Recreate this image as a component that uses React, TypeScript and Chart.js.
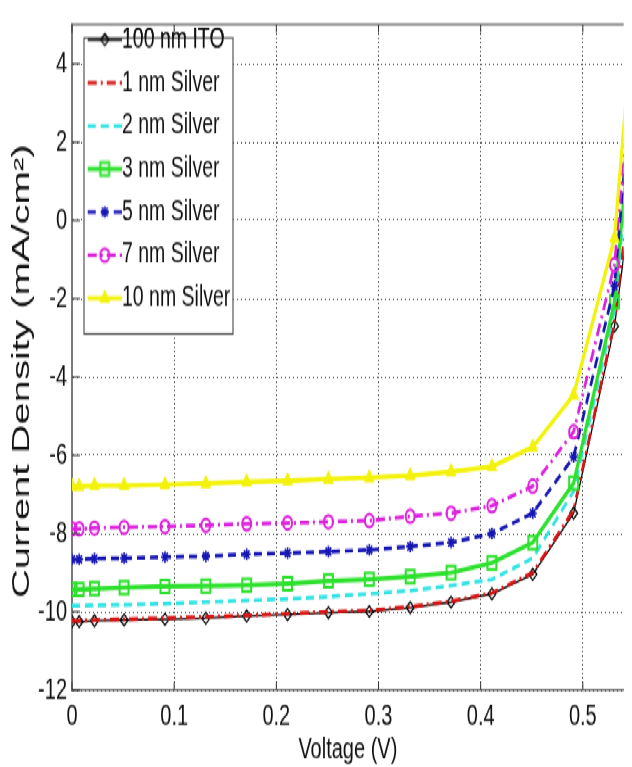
import React, { useEffect, useRef } from 'react';
import { Chart, registerables } from 'chart.js';

Chart.register(...registerables);

// ---- data ----
const VOLTAGE = [0, 0.007, 0.022, 0.051, 0.091, 0.131, 0.171, 0.211, 0.251, 0.291, 0.331, 0.371, 0.411, 0.451, 0.491, 0.531, 0.571];
const ITO_100NM = [-10.25, -10.25, -10.23, -10.21, -10.19, -10.16, -10.11, -10.07, -10.02, -9.99, -9.89, -9.75, -9.54, -9.04, -7.48, -2.7, 5.2];
const SILVER_1NM = [-10.23, -10.23, -10.21, -10.19, -10.16, -10.13, -10.09, -10.05, -10.0, -9.96, -9.87, -9.73, -9.52, -9.0, -7.4, -2.6, 6.4];
const SILVER_2NM = [-9.84, -9.84, -9.83, -9.82, -9.79, -9.75, -9.71, -9.67, -9.61, -9.54, -9.46, -9.33, -9.17, -8.63, -6.92, -2.3, 8.6];
const SILVER_3NM = [-9.43, -9.43, -9.41, -9.38, -9.35, -9.34, -9.32, -9.28, -9.21, -9.17, -9.1, -9.0, -8.75, -8.23, -6.71, -2.08, 9.5];
const SILVER_5NM = [-8.66, -8.66, -8.64, -8.63, -8.6, -8.58, -8.53, -8.5, -8.46, -8.42, -8.33, -8.23, -8.0, -7.48, -6.04, -1.67, 10.7];
const SILVER_7NM = [-7.88, -7.88, -7.86, -7.84, -7.82, -7.79, -7.75, -7.73, -7.7, -7.67, -7.56, -7.48, -7.29, -6.79, -5.4, -1.13, 10.7];
const SILVER_10NM = [-6.79, -6.79, -6.77, -6.77, -6.75, -6.72, -6.68, -6.65, -6.61, -6.57, -6.52, -6.42, -6.29, -5.79, -4.46, -0.45, 12];
const SERIES_LABELS = ['100 nm ITO', '1 nm Silver', '2 nm Silver', '3 nm Silver', '5 nm Silver', '7 nm Silver', '10 nm Silver'];
const X_TITLE = 'Voltage (V)';
const Y_TITLE = 'Current Density (mA/cm\u00B2)';
const X_RANGE = [0, 0.54];
const Y_RANGE = [-12, 5];
const X_STEP = 0.1;
const Y_STEP = 2;

// ---- layout (the original picture is vertically stretched) ----
const W = 632;
const H = 529;
const S = 767 / H;

type Marker = 'none' | 'diamond' | 'square' | 'star' | 'circle' | 'triangle';
interface Style {
  color: string;
  width: number;
  dash: number[];
  marker: Marker;
  pointStyle: any;
  radius: number;
  fill: string;
  pbw: number;
}

const STYLES: Style[] = [
  { color: '#000000', width: 1.3, dash: [], marker: 'diamond', pointStyle: 'rectRot', radius: 4, fill: 'rgba(0,0,0,0)', pbw: 1.2 },
  { color: '#d81414', width: 2.7, dash: [9, 4, 2, 4], marker: 'none', pointStyle: 'circle', radius: 0, fill: 'rgba(0,0,0,0)', pbw: 0 },
  { color: '#30e4e4', width: 2.7, dash: [8, 5], marker: 'none', pointStyle: 'circle', radius: 0, fill: 'rgba(0,0,0,0)', pbw: 0 },
  { color: '#2ee02e', width: 3.2, dash: [], marker: 'square', pointStyle: 'rect', radius: 6.3, fill: 'rgba(0,0,0,0)', pbw: 2 },
  { color: '#1616b4', width: 2.7, dash: [8, 5], marker: 'star', pointStyle: 'star', radius: 4, fill: 'rgba(0,0,0,0)', pbw: 1.6 },
  { color: '#dd22dd', width: 2.7, dash: [9, 4, 2, 4], marker: 'circle', pointStyle: 'circle', radius: 4.5, fill: 'rgba(0,0,0,0)', pbw: 2 },
  { color: '#f2f20a', width: 3.2, dash: [], marker: 'triangle', pointStyle: 'triangle', radius: 5.5, fill: '#f2f20a', pbw: 1 },
];

function legendSample(st: Style): HTMLCanvasElement {
  const c = document.createElement('canvas');
  c.width = 49;
  c.height = 20;
  const g = c.getContext('2d')!;
  const cy = 10;
  g.strokeStyle = st.color;
  g.lineWidth = st.width;
  g.setLineDash(st.dash);
  g.beginPath();
  g.moveTo(15, cy);
  g.lineTo(49, cy);
  g.stroke();
  g.setLineDash([]);
  const mx = 32;
  g.lineWidth = st.pbw;
  g.fillStyle = st.fill;
  g.beginPath();
  if (st.marker === 'diamond') {
    const r = st.radius;
    g.moveTo(mx, cy - r); g.lineTo(mx + r, cy); g.lineTo(mx, cy + r); g.lineTo(mx - r, cy); g.closePath();
    g.stroke();
  } else if (st.marker === 'square') {
    const h = st.radius * Math.SQRT1_2;
    g.rect(mx - h, cy - h, 2 * h, 2 * h);
    g.stroke();
  } else if (st.marker === 'circle') {
    g.arc(mx, cy, st.radius, 0, Math.PI * 2);
    g.stroke();
  } else if (st.marker === 'star') {
    const r = st.radius;
    for (let k = 0; k < 4; k++) {
      const a = (k * Math.PI) / 4;
      g.moveTo(mx - Math.cos(a) * r, cy - Math.sin(a) * r);
      g.lineTo(mx + Math.cos(a) * r, cy + Math.sin(a) * r);
    }
    g.stroke();
  } else if (st.marker === 'triangle') {
    const r = st.radius;
    for (let k = 0; k < 3; k++) {
      const a = (k * 2 * Math.PI) / 3;
      const px = mx + Math.sin(a) * r;
      const py = cy - Math.cos(a) * r;
      if (k === 0) g.moveTo(px, py); else g.lineTo(px, py);
    }
    g.closePath();
    g.fill();
    g.stroke();
  }
  return c;
}

const Y_TITLE_SHIFT = 9.5;
const Y_TITLE_STRETCH = 1.2;

const framePlugin = {
  id: 'matlabFrame',
  beforeDraw(chart: any) {
    const ys = chart.scales.y;
    if (ys && !ys.__shifted) {
      const orig = ys.drawTitle.bind(ys);
      ys.drawTitle = () => {
        const ctx = chart.ctx;
        const c0 = (ys.top + ys.bottom) / 2;
        ctx.save();
        ctx.translate(0, c0 + Y_TITLE_SHIFT);
        ctx.scale(1, Y_TITLE_STRETCH);
        ctx.translate(0, -c0);
        orig();
        ctx.restore();
      };
      ys.__shifted = true;
    }
  },
  afterDatasetsDraw(chart: any) {
    const { ctx, chartArea: a } = chart;
    ctx.save();
    // top border of the axes box
    ctx.strokeStyle = '#7a7a7a';
    ctx.lineWidth = 1.5;
    ctx.beginPath();
    ctx.moveTo(a.left, a.top);
    ctx.lineTo(a.right, a.top);
    ctx.stroke();
    // inward tick marks
    ctx.strokeStyle = '#333';
    ctx.lineWidth = 1;
    ctx.beginPath();
    for (const t of chart.scales.x.ticks) {
      const px = chart.scales.x.getPixelForValue(t.value);
      ctx.moveTo(px, a.bottom);
      ctx.lineTo(px, a.bottom - 5.5);
      ctx.moveTo(px, a.top);
      ctx.lineTo(px, a.top + 5.5);
    }
    for (const t of chart.scales.y.ticks) {
      const py = chart.scales.y.getPixelForValue(t.value);
      ctx.moveTo(a.left, py);
      ctx.lineTo(a.left + 8, py);
    }
    ctx.stroke();
    // legend box
    const bx = a.left + 12;
    const by = a.top + 9.2;
    const bw = 149;
    const bh = 204.2;
    ctx.fillStyle = '#ffffff';
    ctx.fillRect(bx, by, bw, bh);
    ctx.strokeStyle = '#555';
    ctx.lineWidth = 1.2;
    ctx.strokeRect(bx, by, bw, bh);
    ctx.restore();
    if (chart.legend) chart.legend.draw();
  },
};

export default function App() {
  const ref = useRef<HTMLCanvasElement>(null);

  useEffect(() => {
    const canvas = ref.current;
    if (!canvas) return;
    const series = [ITO_100NM, SILVER_1NM, SILVER_2NM, SILVER_3NM, SILVER_5NM, SILVER_7NM, SILVER_10NM];
    const samples = STYLES.map(legendSample);

    const datasets = series.map((vals, i) => {
      const st = STYLES[i];
      return {
        label: SERIES_LABELS[i],
        data: VOLTAGE.map((v, j) => ({ x: v, y: vals[j] })),
        borderColor: st.color,
        backgroundColor: st.color,
        borderWidth: st.width,
        borderDash: st.dash,
        pointStyle: st.pointStyle,
        pointRadius: st.radius,
        pointBorderColor: st.color,
        pointBackgroundColor: st.fill,
        pointBorderWidth: st.pbw,
        tension: 0,
        fill: false,
        order: 7 - i,
      };
    });

    const family = '"Liberation Sans", Arial, sans-serif';
    const tickFont = { family, size: 20 };
    const legendFont = { family, size: 19.5 };

    const chart = new Chart(canvas, {
      type: 'line',
      data: { datasets },
      plugins: [framePlugin],
      options: {
        animation: false,
        responsive: false,
        events: [],
        layout: { padding: { top: 8, left: 0, right: 0, bottom: 0 } },
        scales: {
          x: {
            type: 'linear',
            min: X_RANGE[0],
            max: X_RANGE[1],
            afterFit: (scale: any) => { scale.height = 53; },
            ticks: { stepSize: X_STEP, includeBounds: false, padding: 6.5, color: '#111', font: tickFont, maxRotation: 0, autoSkip: false },
            grid: { color: '#3a3a3a', lineWidth: 1, drawTicks: false },
            border: { display: true, color: '#7a7a7a', width: 1.5, dash: [1, 2] },
            title: { display: true, text: X_TITLE, color: '#111', font: tickFont, padding: { top: 0, bottom: 0 } },
          },
          y: {
            type: 'linear',
            min: Y_RANGE[0],
            max: Y_RANGE[1],
            afterFit: (scale: any) => { scale.width = 72; },
            ticks: { stepSize: Y_STEP, includeBounds: false, padding: 5, color: '#111', font: tickFont },
            grid: { color: '#3a3a3a', lineWidth: 1, drawTicks: false },
            border: { display: true, color: '#7a7a7a', width: 2, dash: [1, 3] },
            title: {
              display: true,
              text: Y_TITLE,
              color: '#111',
              font: { family, size: 23 },
              padding: { top: 9, bottom: 0 },
            },
          },
        },
        plugins: {
          tooltip: { enabled: false },
          legend: {
            display: true,
            position: 'chartArea' as any,
            align: 'start',
            title: { display: true, text: '', font: { size: 1 }, padding: { top: 6.3, bottom: 0 } },
            labels: {
              usePointStyle: true,
              pointStyleWidth: 30,
              padding: 10.2,
              color: '#111',
              font: legendFont,
              sort: (a: any, b: any) => a.datasetIndex - b.datasetIndex,
              generateLabels: (ch: any) => {
                const base = (Chart.defaults.plugins.legend.labels as any).generateLabels(ch);
                return base
                  .sort((a: any, b: any) => a.datasetIndex - b.datasetIndex)
                  .map((l: any) => ({ ...l, pointStyle: samples[l.datasetIndex], lineWidth: 0 }));
              },
            },
          },
        },
      } as any,
    });

    return () => chart.destroy();
  }, []);

  return (
    <div
      style={{
        position: 'absolute',
        left: 0,
        top: 0,
        width: W,
        height: H,
        transform: `scaleY(${S})`,
        transformOrigin: '0 0',
        background: '#fff',
      }}
    >
      <canvas ref={ref} width={W} height={H} style={{ display: 'block' }} />
    </div>
  );
}
